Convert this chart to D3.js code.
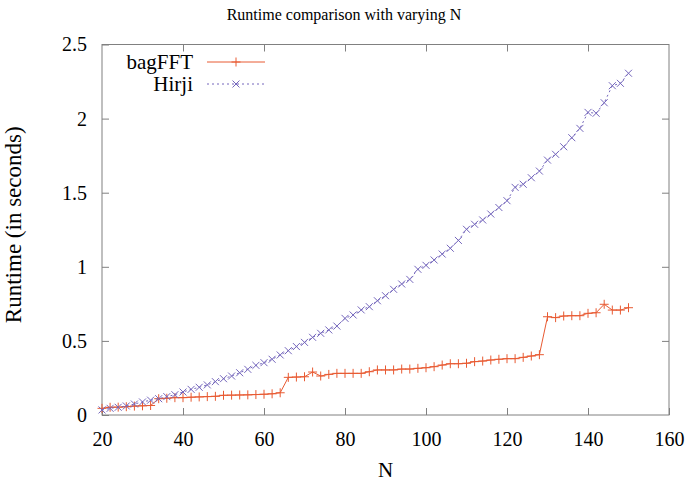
<!DOCTYPE html>
<html>
<head>
<meta charset="utf-8">
<script src="https://cdn.jsdelivr.net/npm/d3@7"></script>
<style>
  body { margin: 0; background: #fff; }
  svg text { font-family: "Liberation Serif", "Times New Roman", Times, "DejaVu Serif", serif; fill: #000; }
</style>
</head>
<body>
<div id="chart"></div>
<script>
const N = [20, 22, 24, 26, 28, 30, 32, 34, 36, 38, 40, 42, 44, 46, 48, 50, 52, 54, 56, 58,
  60, 62, 64, 66, 68, 70, 72, 74, 76, 78, 80, 82, 84, 86, 88, 90, 92, 94, 96, 98,
  100, 102, 104, 106, 108, 110, 112, 114, 116, 118, 120, 122, 124, 126, 128, 130,
  132, 134, 136, 138, 140, 142, 144, 146, 148, 150];

const bagFFT = [0.045, 0.052, 0.053, 0.056, 0.060, 0.062, 0.064, 0.110, 0.113, 0.117,
  0.117, 0.120, 0.122, 0.124, 0.126, 0.133, 0.134, 0.135, 0.136, 0.138,
  0.140, 0.143, 0.150, 0.254, 0.256, 0.258, 0.290, 0.263, 0.274, 0.281,
  0.281, 0.281, 0.281, 0.292, 0.304, 0.304, 0.304, 0.310, 0.310, 0.315,
  0.319, 0.326, 0.337, 0.346, 0.346, 0.349, 0.360, 0.364, 0.371, 0.376,
  0.380, 0.380, 0.389, 0.398, 0.407, 0.663, 0.657, 0.668, 0.670, 0.670,
  0.686, 0.690, 0.747, 0.708, 0.708, 0.724];

const hirji = [0.034, 0.045, 0.052, 0.061, 0.074, 0.088, 0.100, 0.110, 0.124, 0.137,
  0.155, 0.173, 0.187, 0.203, 0.225, 0.245, 0.263, 0.285, 0.308, 0.335,
  0.353, 0.376, 0.405, 0.434, 0.462, 0.490, 0.524, 0.551, 0.574, 0.600,
  0.652, 0.675, 0.709, 0.731, 0.771, 0.805, 0.848, 0.884, 0.915, 0.983,
  1.010, 1.046, 1.086, 1.125, 1.178, 1.253, 1.287, 1.316, 1.356, 1.400,
  1.446, 1.536, 1.557, 1.601, 1.646, 1.720, 1.759, 1.810, 1.871, 1.934,
  2.042, 2.036, 2.107, 2.222, 2.238, 2.306];

const xTicks = [20, 40, 60, 80, 100, 120, 140, 160];
const yTicks = [0, 0.5, 1, 1.5, 2, 2.5];

const series = [
  { name: 'bagFFT', values: bagFFT, color: '#e85a32', dash: null, mark: 'plus' },
  { name: 'Hirji', values: hirji, color: '#7466bc', dash: '2,3', mark: 'cross' }
];

const width = 689, height = 484;
const margin = { top: 44.5, right: 20, bottom: 69, left: 102 };
const iw = width - margin.left - margin.right;
const ih = height - margin.top - margin.bottom;

const svg = d3.select('#chart').append('svg')
  .attr('width', width).attr('height', height);
const g = svg.append('g').attr('transform', `translate(${margin.left},${margin.top})`);

const x = d3.scaleLinear().domain([20, 160]).range([0, iw]);
const y = d3.scaleLinear().domain([0, 2.5]).range([ih, 0]);

const axisColor = '#808080';
const tick = 7;

// border
g.append('rect').attr('width', iw).attr('height', ih)
  .attr('fill', 'none').attr('stroke', axisColor).attr('stroke-width', 1);

// ticks on all four sides, pointing inwards
const tickFmt = d3.format('');
const styleAxis = (sel) => {
  sel.attr('font-family', null).attr('font-size', null);
  sel.select('.domain').remove();
  sel.selectAll('line').attr('stroke', axisColor);
  sel.selectAll('text').style('font-size', '20px').attr('fill', '#000');
};
g.append('g').attr('transform', `translate(0,${ih})`)
  .call(d3.axisBottom(x).tickValues(xTicks).tickSizeInner(-tick).tickPadding(tick + 10).tickFormat(tickFmt))
  .call(styleAxis);
g.append('g')
  .call(d3.axisTop(x).tickValues(xTicks.slice(1, -1)).tickSizeInner(-tick).tickFormat(''))
  .call(styleAxis);
g.append('g')
  .call(d3.axisLeft(y).tickValues(yTicks).tickSizeInner(-tick).tickPadding(tick + 8).tickFormat(tickFmt))
  .call(styleAxis);
g.append('g').attr('transform', `translate(${iw},0)`)
  .call(d3.axisRight(y).tickValues(yTicks.slice(1, -1)).tickSizeInner(-tick).tickFormat(''))
  .call(styleAxis);

// markers
const markPath = (kind, s) => kind === 'plus'
  ? `M${-s},0H${s}M0,${-s}V${s}`
  : `M${-s},${-s}L${s},${s}M${-s},${s}L${s},${-s}`;

const line = d3.line().x((d) => x(d[0])).y((d) => y(d[1]));

series.forEach((s) => {
  const pts = N.map((n, i) => [n, s.values[i]]);
  g.append('path').datum(pts)
    .attr('d', line)
    .attr('fill', 'none')
    .attr('stroke', s.color)
    .attr('stroke-width', 1)
    .attr('stroke-dasharray', s.dash);
  g.selectAll(null).data(pts).enter().append('path')
    .attr('transform', (d) => `translate(${x(d[0])},${y(d[1])})`)
    .attr('d', markPath(s.mark, s.mark === 'plus' ? 4.5 : 3.5))
    .attr('fill', 'none')
    .attr('stroke', s.color)
    .attr('stroke-width', 1);
});

// legend
const legend = g.append('g');
series.forEach((s, i) => {
  const ly = 17.5 + i * 22;
  legend.append('text')
    .attr('x', 91).attr('y', ly).attr('dy', '0.35em')
    .attr('text-anchor', 'end')
    .style('font-size', '21px')
    .text(s.name);
  legend.append('line')
    .attr('x1', 105).attr('x2', 163).attr('y1', ly).attr('y2', ly)
    .attr('stroke', s.color).attr('stroke-dasharray', s.dash);
  legend.append('path')
    .attr('transform', `translate(134,${ly})`)
    .attr('d', markPath(s.mark, s.mark === 'plus' ? 4.5 : 3.5))
    .attr('fill', 'none').attr('stroke', s.color);
});

// title and axis labels
svg.append('text')
  .attr('x', 344).attr('y', 20)
  .attr('text-anchor', 'middle').style('font-size', '16px')
  .text('Runtime comparison with varying N');
svg.append('text')
  .attr('x', margin.left + iw / 2).attr('y', 477)
  .attr('text-anchor', 'middle').style('font-size', '21px')
  .text('N');
svg.append('text')
  .attr('transform', `translate(21,${margin.top + ih / 2 - 5}) rotate(-90)`)
  .attr('text-anchor', 'middle').style('font-size', '23px')
  .text('Runtime (in seconds)');
</script>
</body>
</html>
